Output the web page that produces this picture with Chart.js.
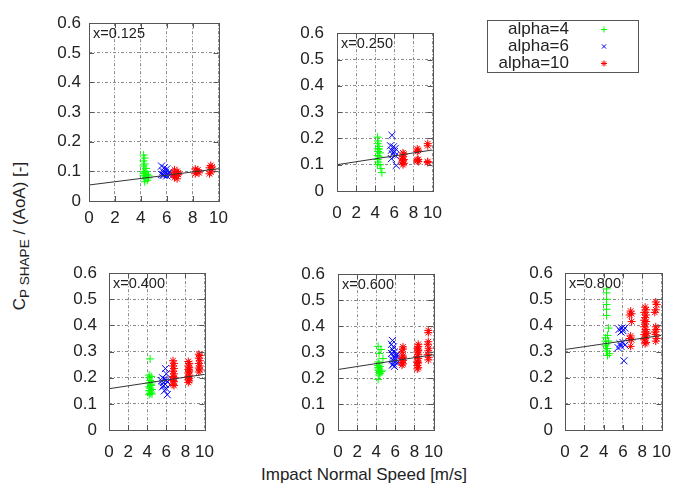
<!DOCTYPE html>
<html><head><meta charset="utf-8">
<script src="https://cdn.jsdelivr.net/npm/chart.js@4/dist/chart.umd.min.js"></script>
<style>
html,body{margin:0;padding:0;background:#fff;}
#wrap{position:relative;width:678px;height:495px;overflow:hidden;font-family:'Liberation Sans',Arial,sans-serif;color:#222;}
canvas{position:absolute;}
#xtitle{position:absolute;left:364px;top:475px;transform:translate(-50%,-50%);font-size:17px;white-space:nowrap;}
#ytitle{position:absolute;left:21px;top:236px;transform:translate(-50%,-50%) rotate(-90deg);font-size:17px;white-space:nowrap;}
#ytitle sub{font-size:0.8em;vertical-align:-0.25em;}
</style></head>
<body><div id="wrap">
<div id="xtitle">Impact Normal Speed [m/s]</div>
<div id="ytitle">C<sub>P SHAPE</sub> / (AoA) [-]</div>
</div>
<script>
// ---------- data ----------
const seriesNames = ['alpha=4','alpha=6','alpha=10'];
const panelLabels = ['x=0.125','x=0.250','x=0.400','x=0.600','x=0.800'];
const xTickValues = [0,2,4,6,8,10];
const xTickLabels = ['0','2','4','6','8','10'];
const yTickValues = [0,0.1,0.2,0.3,0.4,0.5,0.6];
const yTickLabels = ['0','0.1','0.2','0.3','0.4','0.5','0.6'];
const fitAt0  = [0.054,0.100,0.158,0.233,0.308];
const fitAt10 = [0.109,0.156,0.213,0.290,0.362];

// x = 0.125
const p125_a4_x = [4.2,4.3,4.2,4.3,4.2,4.4,4.2,4.3,4.5,4.2,4.4,4.6,4.3,4.5,4.3,4.6,4.2,4.4];
const p125_a4_y = [0.155,0.145,0.135,0.125,0.118,0.11,0.10,0.095,0.09,0.085,0.08,0.085,0.075,0.07,0.065,0.078,0.092,0.10];
const p125_a6_x = [5.6,5.8,5.7,6.0,5.9,6.1,5.6,5.8,6.2,6.0,5.7,6.3];
const p125_a6_y = [0.118,0.112,0.1,0.108,0.097,0.092,0.09,0.087,0.098,0.085,0.088,0.09];
const p125_a10_x = [6.6,6.8,6.6,6.9,6.7,6.6,6.8,6.9,6.5,8.2,8.4,8.3,8.5,8.2,8.4,9.4,9.3,9.5,9.4,9.3,9.5];
const p125_a10_y = [0.105,0.1,0.095,0.09,0.085,0.08,0.075,0.095,0.088,0.108,0.105,0.1,0.095,0.092,0.098,0.12,0.112,0.105,0.098,0.092,0.115];

// x = 0.250
const p250_a4_x = [4.25,4.3,4.25,4.4,4.25,4.3,4.5,4.25,4.4,4.25,4.3,4.5,4.25,4.6,4.7,4.4];
const p250_a4_y = [0.205,0.19,0.18,0.17,0.16,0.15,0.145,0.135,0.13,0.12,0.11,0.1,0.1,0.085,0.07,0.16];
const p250_a6_x = [5.75,5.6,5.9,6.1,5.7,6.0,5.8,6.1,5.7,6.2];
const p250_a6_y = [0.212,0.172,0.168,0.162,0.155,0.15,0.14,0.135,0.123,0.097];
const p250_a10_x = [6.9,7.0,6.9,6.8,7.0,6.9,6.8,7.0,6.9,8.4,8.5,8.4,8.5,8.4,8.5,8.4,9.5,9.5,9.5,9.5];
const p250_a10_y = [0.145,0.14,0.132,0.125,0.12,0.115,0.11,0.105,0.1,0.16,0.155,0.15,0.12,0.115,0.112,0.118,0.18,0.172,0.112,0.108];

// x = 0.400
const p400_a4_x = [4.3,4.2,4.4,4.2,4.3,4.5,4.2,4.4,4.2,4.3,4.5,4.2,4.4,4.3,4.5,4.2,4.4,4.3];
const p400_a4_y = [0.272,0.21,0.205,0.2,0.19,0.185,0.18,0.17,0.165,0.16,0.155,0.15,0.145,0.14,0.138,0.135,0.175,0.152];
const p400_a6_x = [5.9,6.0,5.6,5.8,6.0,5.5,5.7,6.1,5.9,5.6,6.0,5.8,6.1,5.7];
const p400_a6_y = [0.235,0.215,0.2,0.195,0.19,0.188,0.182,0.185,0.175,0.165,0.158,0.15,0.135,0.17];
const p400_a10_x = [6.7,6.8,6.7,6.8,6.7,6.8,6.7,6.8,6.7,6.8,6.7,6.8,8.3,8.4,8.3,8.4,8.3,8.4,8.3,8.4,8.3,8.4,8.3,8.4,8.3,8.4,9.4,9.5,9.4,9.5,9.4,9.5,9.4,9.5,9.4];
const p400_a10_y = [0.265,0.255,0.245,0.235,0.225,0.215,0.205,0.2,0.19,0.185,0.175,0.17,0.262,0.255,0.245,0.24,0.232,0.225,0.218,0.21,0.205,0.198,0.192,0.188,0.182,0.23,0.29,0.285,0.275,0.265,0.255,0.245,0.237,0.23,0.222];

// x = 0.600
const p600_a4_x = [4.2,4.5,4.3,4.7,4.2,4.3,4.2,4.4,4.2,4.3,4.2,4.5,4.3,4.4,4.3,4.2,4.6];
const p600_a4_y = [0.322,0.31,0.295,0.275,0.262,0.255,0.248,0.245,0.24,0.235,0.23,0.225,0.222,0.218,0.212,0.195,0.228];
const p600_a6_x = [5.7,5.6,5.8,5.7,5.9,5.6,6.1,5.8,6.0,5.7,5.9,6.2,5.8,5.7,6.1,5.9];
const p600_a6_y = [0.345,0.33,0.32,0.31,0.3,0.295,0.29,0.285,0.275,0.27,0.265,0.26,0.255,0.25,0.285,0.245];
const p600_a10_x = [6.8,6.8,6.7,6.8,6.7,6.8,6.7,6.8,6.7,6.8,8.4,8.4,8.3,8.4,8.3,8.4,8.3,8.4,8.3,8.4,8.3,8.4,8.3,8.4,8.3,9.45,9.45,9.45,9.4,9.5,9.45,9.4,9.5,9.45];
const p600_a10_y = [0.32,0.312,0.3,0.285,0.275,0.268,0.26,0.255,0.25,0.28,0.33,0.322,0.315,0.308,0.3,0.29,0.283,0.275,0.265,0.258,0.248,0.24,0.235,0.305,0.26,0.383,0.375,0.34,0.33,0.315,0.305,0.29,0.28,0.27];

// x = 0.800
const p800_a4_x = [4.3,4.3,4.3,4.3,4.3,4.3,4.5,4.4,4.2,4.5,4.3,4.2,4.4,4.3,4.6,4.4,4.2];
const p800_a4_y = [0.54,0.525,0.5,0.48,0.462,0.438,0.39,0.362,0.352,0.34,0.33,0.322,0.312,0.302,0.292,0.285,0.34];
const p800_a6_x = [5.6,5.9,6.2,5.8,6.0,5.7,6.0,6.2,5.5,5.8,6.1];
const p800_a6_y = [0.385,0.39,0.39,0.375,0.38,0.33,0.335,0.325,0.315,0.32,0.265];
const p800_a10_x = [6.8,6.9,6.7,6.9,6.8,6.7,6.9,6.8,8.3,8.4,8.2,8.4,8.3,8.2,8.4,8.3,8.2,8.4,8.3,8.2,8.4,8.3,8.2,8.4,8.3,8.5,9.4,9.5,9.4,9.3,9.4,9.5,9.3,9.4,9.5,9.4];
const p800_a10_y = [0.455,0.445,0.44,0.415,0.36,0.35,0.345,0.32,0.47,0.46,0.45,0.44,0.43,0.42,0.415,0.405,0.395,0.385,0.375,0.365,0.36,0.35,0.345,0.335,0.33,0.37,0.49,0.48,0.46,0.45,0.395,0.385,0.375,0.365,0.35,0.34];

// ---------- layout & style (not data) ----------
const FONT = "'Liberation Sans', Arial, sans-serif";
const TEXT = '#222';
const FRAME = '#555';
const styles = [
  {color:'#00ff00', pointStyle:'cross',    radius:4},
  {color:'#0000ff', pointStyle:'crossRot', radius:5},
  {color:'#ff0000', pointStyle:'star',     radius:4}
];
const panels = [
  {L:89,  T:17,  R:219, B:201, yPad:8,  xPad:7,  xs:[p125_a4_x,p125_a6_x,p125_a10_x], ys:[p125_a4_y,p125_a6_y,p125_a10_y]},
  {L:337, T:22,  R:438, B:191, yPad:13, xPad:12, xs:[p250_a4_x,p250_a6_x,p250_a10_x], ys:[p250_a4_y,p250_a6_y,p250_a10_y]},
  {L:109, T:263, R:210, B:430, yPad:12, xPad:12, xs:[p400_a4_x,p400_a6_x,p400_a10_x], ys:[p400_a4_y,p400_a6_y,p400_a10_y]},
  {L:338, T:263, R:439, B:430, yPad:13, xPad:12, xs:[p600_a4_x,p600_a6_x,p600_a10_x], ys:[p600_a4_y,p600_a6_y,p600_a10_y]},
  {L:565, T:263, R:667, B:430, yPad:12, xPad:12, xs:[p800_a4_x,p800_a6_x,p800_a10_x], ys:[p800_a4_y,p800_a6_y,p800_a10_y]}
];
const YW = 70, XH = 45, PT = 12, PR = 16;

const framePlugin = {
  id:'frameBox',
  afterDraw(chart, args, opts){
    const {ctx, chartArea:a, scales} = chart;
    ctx.save();
    ctx.strokeStyle = FRAME; ctx.lineWidth = 1; ctx.setLineDash([]);
    ctx.beginPath();
    const tl = 5;
    scales.x.ticks.forEach(t => {
      const px = Math.round(scales.x.getPixelForValue(t.value)) + 0.5;
      ctx.moveTo(px, a.bottom); ctx.lineTo(px, a.bottom - tl);
      ctx.moveTo(px, a.top); ctx.lineTo(px, a.top + tl);
    });
    scales.y.ticks.forEach(t => {
      const py = Math.round(scales.y.getPixelForValue(t.value)) + 0.5;
      ctx.moveTo(a.left, py); ctx.lineTo(a.left + tl, py);
      ctx.moveTo(a.right, py); ctx.lineTo(a.right - tl, py);
    });
    ctx.stroke();
    ctx.strokeRect(Math.round(a.left)+0.5, Math.round(a.top)+0.5, Math.round(a.right-a.left), Math.round(a.bottom-a.top));
    ctx.fillStyle = TEXT;
    ctx.font = '14.5px ' + FONT;
    ctx.textBaseline = 'middle'; ctx.textAlign = 'left';
    ctx.fillText(opts.label, a.left + 4, a.top + 11);
    ctx.restore();
  }
};

const wrap = document.getElementById('wrap');
panels.forEach((p, i) => {
  const cv = document.createElement('canvas');
  const w = (p.R - p.L) + YW + PR, h = (p.B - p.T) + PT + XH;
  cv.width = w; cv.height = h;
  cv.style.left = (p.L - YW) + 'px'; cv.style.top = (p.T - PT) + 'px';
  cv.style.width = w + 'px'; cv.style.height = h + 'px';
  wrap.appendChild(cv);
  const datasets = [{
    label:'fit', data:[{x:xTickValues[0], y:fitAt0[i]},{x:xTickValues[xTickValues.length-1], y:fitAt10[i]}],
    showLine:true, borderColor:'#333', borderWidth:1, pointRadius:0, fill:false, order:0
  }];
  [0,1,2].forEach(s => {
    datasets.push({
      label: seriesNames[s],
      data: p.xs[s].map((x, k) => ({x, y:p.ys[s][k]})),
      pointStyle: styles[s].pointStyle, pointRadius: styles[s].radius,
      borderColor: styles[s].color, pointBorderColor: styles[s].color,
      backgroundColor:'rgba(0,0,0,0)', pointBorderWidth:1, showLine:false,
      order: 3 - s
    });
  });
  new Chart(cv, {
    type:'scatter',
    data:{datasets},
    plugins:[framePlugin],
    options:{
      responsive:false, animation:false, devicePixelRatio:1,
      events:[],
      layout:{padding:{left:0, top:PT, right:PR, bottom:0}, autoPadding:false},
      plugins:{legend:{display:false}, tooltip:{enabled:false}, frameBox:{label:panelLabels[i]}},
      scales:{
        x:{type:'linear', min:0, max:10,
           afterFit: s => { s.height = XH; },
           afterBuildTicks: s => { s.ticks = xTickValues.map(v => ({value:v})); },
           grid:{color:'#8a8a8a', lineWidth:1, drawTicks:false},
           border:{display:false, dash:[3,2,1,2]},
           ticks:{autoSkip:false, maxRotation:0, padding:p.xPad, color:TEXT, font:{family:FONT, size:17},
                  callback:(v, k) => xTickLabels[k]}},
        y:{type:'linear', min:0, max:0.6,
           afterFit: s => { s.width = YW; },
           afterBuildTicks: s => { s.ticks = yTickValues.map(v => ({value:v})); },
           grid:{color:'#8a8a8a', lineWidth:1, drawTicks:false},
           border:{display:false, dash:[3,2,1,2]},
           ticks:{autoSkip:false, padding:p.yPad, color:TEXT, font:{family:FONT, size:17},
                  callback:(v, k) => yTickLabels[k]}}
      }
    }
  });
});

// legend chart
const lg = document.createElement('canvas');
lg.width = 190; lg.height = 75;
lg.style.left = '480px'; lg.style.top = '10px'; lg.style.width = '190px'; lg.style.height = '75px';
wrap.appendChild(lg);
const legendPlugin = {
  id:'legendBox',
  afterDraw(chart){
    const ctx = chart.ctx;
    ctx.save();
    ctx.strokeStyle = FRAME; ctx.lineWidth = 1; ctx.setLineDash([]);
    ctx.strokeRect(7.5, 10.5, 151, 52);
    ctx.font = '17px ' + FONT; ctx.fillStyle = TEXT;
    ctx.textAlign = 'right'; ctx.textBaseline = 'middle';
    chart.data.datasets.forEach((ds, k) => {
      const y = 19.5 + k * 17;
      ctx.fillStyle = TEXT;
      ctx.fillText(ds.label, 89, y);
      ctx.strokeStyle = ds.pointBorderColor; ctx.lineWidth = 1;
      if (Chart.helpers && Chart.helpers.drawPoint) {
        Chart.helpers.drawPoint(ctx, {pointStyle:ds.pointStyle, radius:3, rotation:0, borderWidth:1}, 124, y);
      }
    });
    ctx.restore();
  }
};
new Chart(lg, {
  type:'scatter',
  data:{datasets: seriesNames.map((n, s) => ({label:n, data:[], pointStyle:styles[s].pointStyle, pointBorderColor:styles[s].color}))},
  plugins:[legendPlugin],
  options:{responsive:false, animation:false, devicePixelRatio:1, events:[],
    plugins:{legend:{display:false}, tooltip:{enabled:false}},
    scales:{x:{display:false}, y:{display:false}}}
});
</script>
</body></html>
